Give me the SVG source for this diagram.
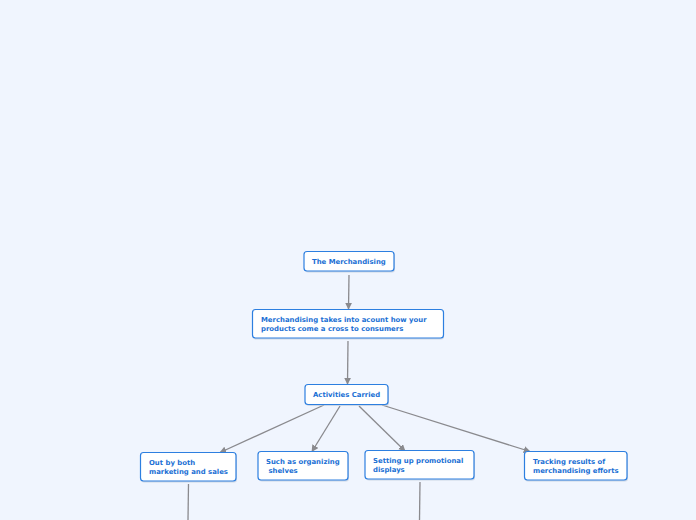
<svg xmlns="http://www.w3.org/2000/svg" width="696" height="520" viewBox="0 0 696 520">
<defs>
<style>
.bg{fill:#f0f5fe}
.box{fill:#ffffff;stroke:#2d7fe0;stroke-width:1.2}
.sh{fill:#b8c4d6;opacity:0.6}
.t{font-family:"DejaVu Sans",Verdana,sans-serif;font-weight:bold;font-size:6.9px;fill:#1a6fd4}
.c{fill:none;stroke:#8a8a8e;stroke-width:1.3}
</style>
<marker id="ah" viewBox="0 0 10 10" refX="9" refY="5" markerWidth="7" markerHeight="7" orient="auto" markerUnits="userSpaceOnUse">
<path d="M0,0 L10,5 L0,10 z" fill="#8a8a8e"/>
</marker>
</defs>
<rect class="bg" x="0" y="0" width="696" height="520"/>
<g id="connectors">
<path class="c" d="M349,275 L348.5,309" marker-end="url(#ah)"/>
<path class="c" d="M348,341 L347.5,384" marker-end="url(#ah)"/>
<path class="c" d="M324,405 L220,452.5" marker-end="url(#ah)"/>
<path class="c" d="M340,406 L312,451.5" marker-end="url(#ah)"/>
<path class="c" d="M359,406 L405,451" marker-end="url(#ah)"/>
<path class="c" d="M382,405 L530,451.5" marker-end="url(#ah)"/>
<path class="c" d="M188.5,484 L188,520"/>
<path class="c" d="M420,482 L419.5,520"/>
</g>
<g id="n1">
<rect class="sh" x="305" y="252.5" width="90" height="20" rx="3"/>
<rect class="box" x="304" y="251.5" width="90" height="19.5" rx="3"/>
<text class="t" x="312" y="264">The Merchandising</text>
</g>
<g id="n2">
<rect class="sh" x="253" y="310.5" width="191" height="29" rx="3"/>
<rect class="box" x="252.5" y="309.5" width="191" height="28.5" rx="3"/>
<text class="t" x="261" y="322">Merchandising takes into acount how your</text>
<text class="t" x="261" y="331">products come a cross to consumers</text>
</g>
<g id="n3">
<rect class="sh" x="306" y="385.5" width="83" height="20.5" rx="3"/>
<rect class="box" x="305" y="384.5" width="83" height="20" rx="3"/>
<text class="t" x="313" y="397">Activities Carried</text>
</g>
<g id="n4">
<rect class="sh" x="141" y="453.5" width="96" height="29" rx="3"/>
<rect class="box" x="140.5" y="452.5" width="95.5" height="28.5" rx="3"/>
<text class="t" x="149" y="465">Out by both</text>
<text class="t" x="149" y="474">marketing and sales</text>
</g>
<g id="n5">
<rect class="sh" x="259" y="452.5" width="90" height="29" rx="3"/>
<rect class="box" x="258" y="451.5" width="90" height="28.5" rx="3"/>
<text class="t" x="266" y="464">Such as organizing</text>
<text class="t" x="266" y="473" xml:space="preserve"> shelves</text>
</g>
<g id="n6">
<rect class="sh" x="366" y="451.5" width="109" height="29" rx="3"/>
<rect class="box" x="365" y="450.5" width="109" height="28.5" rx="3"/>
<text class="t" x="373" y="463">Setting up promotional</text>
<text class="t" x="373" y="472">displays</text>
</g>
<g id="n7">
<rect class="sh" x="525" y="452.5" width="103" height="29" rx="3"/>
<rect class="box" x="524.5" y="451.5" width="102.5" height="28.5" rx="3"/>
<text class="t" x="533" y="464">Tracking results of</text>
<text class="t" x="533" y="473">merchandising efforts</text>
</g>
</svg>
